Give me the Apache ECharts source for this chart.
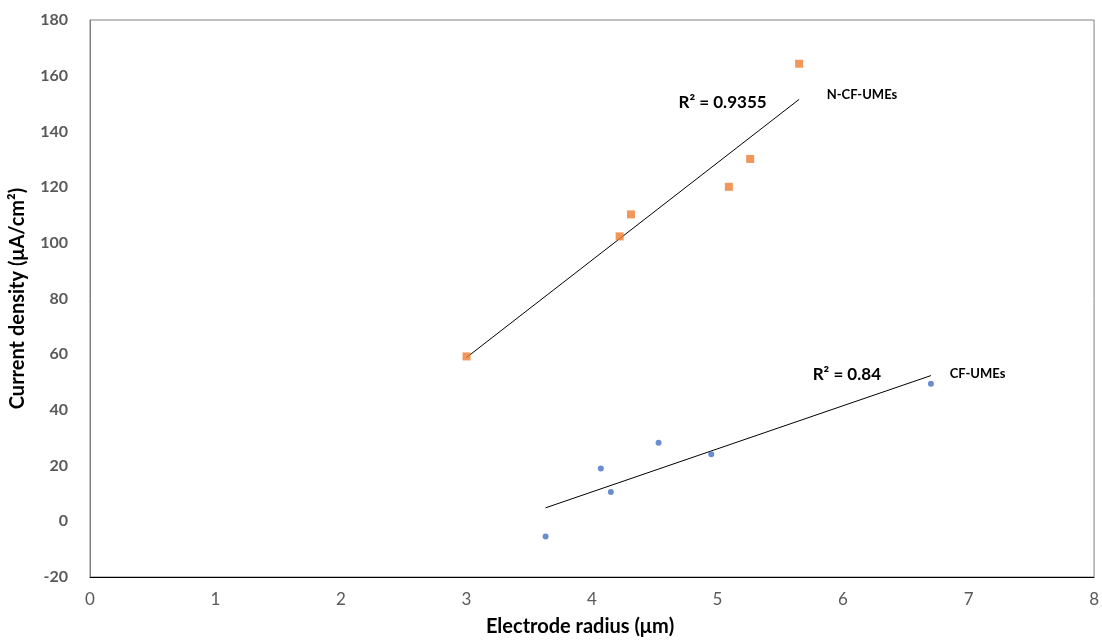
<!DOCTYPE html>
<html>
<head>
<meta charset="utf-8">
<script src="https://cdn.jsdelivr.net/npm/echarts@6/dist/echarts.min.js"></script>
<style>html,body{margin:0;padding:0;background:#fff}#c{width:1102px;height:642px}</style>
</head>
<body>
<div id="c"></div>
<script>
// N-CF-UMEs (orange squares)
const nX = [3.00, 4.22, 4.31, 5.09, 5.26, 5.65];
const nY = [59.2, 102.3, 110.2, 120.1, 130.1, 164.3];
// CF-UMEs (blue circles)
const cX = [3.63, 4.07, 4.15, 4.53, 4.95, 6.70];
const cY = [-5.5, 19.0, 10.5, 28.2, 24.1, 49.4];
const xTicks = [0, 1, 2, 3, 4, 5, 6, 7, 8];
const yTicks = [-20, 0, 20, 40, 60, 80, 100, 120, 140, 160, 180];
const nR2 = 'R² = 0.9355';
const cR2 = 'R² = 0.84';

function fit(xs, ys) {
  const n = xs.length;
  const mx = xs.reduce((a, b) => a + b, 0) / n;
  const my = ys.reduce((a, b) => a + b, 0) / n;
  let sxy = 0, sxx = 0;
  for (let i = 0; i < n; i++) { sxy += (xs[i] - mx) * (ys[i] - my); sxx += (xs[i] - mx) ** 2; }
  const b = sxy / sxx, a = my - b * mx;
  const x0 = Math.min(...xs), x1 = Math.max(...xs);
  return [[x0, a + b * x0], [x1, a + b * x1]];
}
const zip = (xs, ys) => xs.map((x, i) => [x, ys[i]]);

const chart = echarts.init(document.getElementById('c'), null, {renderer: 'canvas'});
const FONT = 'Lato, "Open Sans", sans-serif';
chart.setOption({
  animation: false,
  backgroundColor: '#fff',
  grid: {left: 88, right: 5, top: 20, bottom: 61, show: true, borderColor: '#808080', borderWidth: 1},
  xAxis: {
    type: 'value', min: xTicks[0], max: xTicks[xTicks.length - 1], interval: 1,
    name: 'Electrode radius (μm)', nameLocation: 'middle', nameGap: 40,
    nameTextStyle: {fontFamily: FONT, fontWeight: 'bold', fontSize: 20, color: '#000', padding: [0, 24, 0, 0]},
    axisLine: {show: true, onZero: false, lineStyle: {color: '#000', width: 1}},
    axisTick: {show: false}, splitLine: {show: false},
    axisLabel: {fontFamily: FONT, fontSize: 17, color: '#595959', margin: 14}
  },
  yAxis: {
    type: 'value', min: yTicks[0], max: yTicks[yTicks.length - 1], interval: 20,
    name: 'Current density (μA/cm²)', nameLocation: 'middle', nameGap: 62, nameRotate: 90,
    nameTextStyle: {fontFamily: FONT, fontWeight: 'bold', fontSize: 20, color: '#000'},
    axisLine: {show: true, onZero: false, lineStyle: {color: '#808080', width: 1}},
    axisTick: {show: false}, splitLine: {show: false},
    axisLabel: {fontFamily: FONT, fontSize: 16, fontWeight: 'bold', color: '#595959', margin: 22}
  },
  series: [
    {type: 'line', data: fit(nX, nY), showSymbol: false, lineStyle: {color: '#000', width: 1}, z: 1},
    {type: 'line', data: fit(cX, cY), showSymbol: false, lineStyle: {color: '#000', width: 1}, z: 1},
    {type: 'scatter', name: 'N-CF-UMEs', data: zip(nX, nY), symbol: 'rect', symbolSize: 8, itemStyle: {color: '#ED7D31'}, z: 3},
    {type: 'scatter', name: 'CF-UMEs', data: zip(cX, cY), symbol: 'circle', symbolSize: 6, itemStyle: {color: '#4472C4'}, z: 3}
  ]
});
const p = (x, y) => chart.convertToPixel({gridIndex: 0}, [x, y]);
const a1 = p(5.04, 150.4), a2 = p(5.87, 153.3), a3 = p(6.03, 52.8), a4 = p(6.85, 52.8);
chart.setOption({
  graphic: [
    {type: 'text', x: a1[0], y: a1[1], style: {text: nR2, font: 'bold 17px ' + FONT, fill: '#000', textAlign: 'center', textVerticalAlign: 'middle'}},
    {type: 'text', x: a2[0], y: a2[1], style: {text: 'N-CF-UMEs', font: 'bold 13px ' + FONT, fill: '#000', textAlign: 'left', textVerticalAlign: 'middle'}},
    {type: 'text', x: a3[0], y: a3[1], style: {text: cR2, font: 'bold 17px ' + FONT, fill: '#000', textAlign: 'center', textVerticalAlign: 'middle'}},
    {type: 'text', x: a4[0], y: a4[1], style: {text: 'CF-UMEs', font: 'bold 13px ' + FONT, fill: '#000', textAlign: 'left', textVerticalAlign: 'middle'}}
  ]
});
</script>
</body>
</html>
